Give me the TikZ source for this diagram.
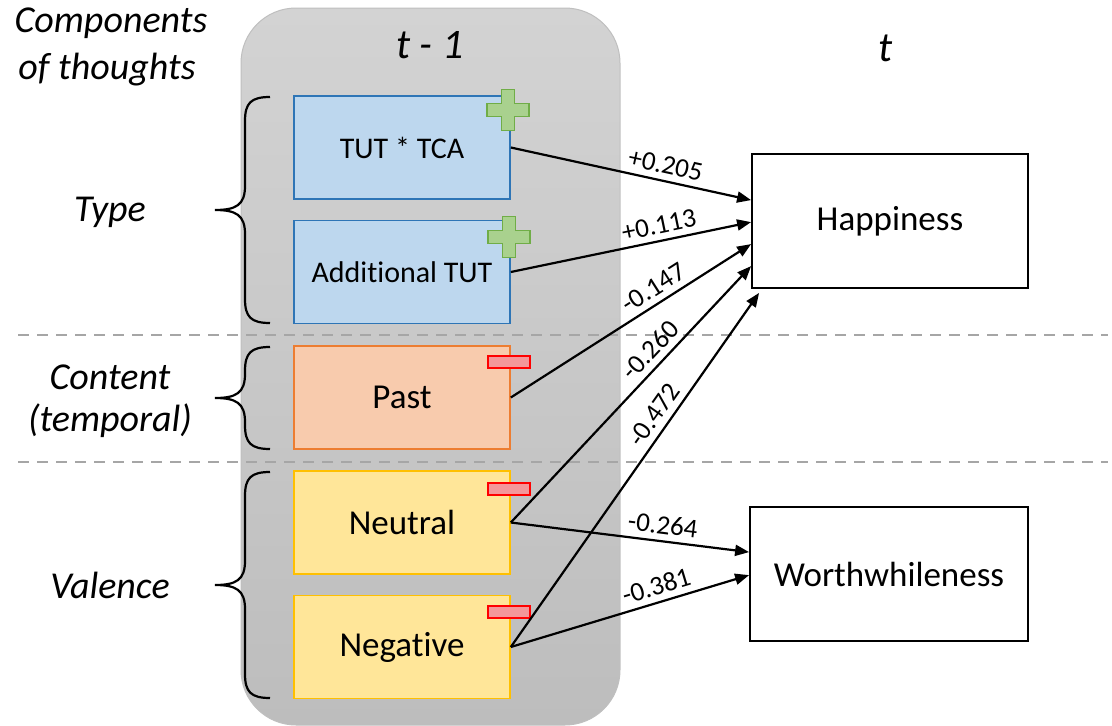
\documentclass[tikz,border=0pt]{standalone}
\usepackage{fontspec}
\setmainfont{Carlito}[Ligatures=NoCommon]
\usetikzlibrary{arrows.meta,calc}

\definecolor{panelTop}{HTML}{D3D3D3}
\definecolor{panelBot}{HTML}{BDBDBD}
\definecolor{panelEdge}{HTML}{BFBFBF}
\definecolor{blueFill}{HTML}{BDD7EE}
\definecolor{blueEdge}{HTML}{2E75B6}
\definecolor{orangeFill}{HTML}{F8CBAD}
\definecolor{orangeEdge}{HTML}{ED7D31}
\definecolor{yellowFill}{HTML}{FFE699}
\definecolor{yellowEdge}{HTML}{FFC000}
\definecolor{plusFill}{HTML}{A9D18E}
\definecolor{plusEdge}{HTML}{70AD47}
\definecolor{minusFill}{HTML}{F4979A}
\definecolor{minusEdge}{HTML}{FF0000}
\definecolor{sepGray}{HTML}{A6A6A6}

\tikzset{
  factor/.style={draw, line width=1.6pt, minimum width=216pt, minimum height=103pt,
    inner sep=0pt, font=\fontsize{35}{40}\selectfont},
  typebox/.style={factor, fill=blueFill, draw=blueEdge, font=\fontsize{30}{36}\selectfont},
  contentbox/.style={factor, fill=orangeFill, draw=orangeEdge},
  valencebox/.style={factor, fill=yellowFill, draw=yellowEdge},
  outcome/.style={draw=black, fill=white, line width=1.8pt, minimum height=134pt,
    inner sep=0pt, font=\fontsize{35}{40}\selectfont},
  sidelabel/.style={font=\fontsize{38}{44}\selectfont\itshape, inner sep=0pt},
  timelabel/.style={font=\fontsize{42}{48}\selectfont\itshape, inner sep=0pt},
  effect/.style={line width=2.2pt, -{Triangle[length=14pt,width=11pt]}},
  coef/.style={font=\fontsize{27}{30}\selectfont\upshape, sloped, above, inner sep=6pt, pos=0.63},
  bracket/.style={line width=2.2pt},
  separator/.style={draw=sepGray, line width=2.5pt, dash pattern=on 11pt off 8pt},
  plusmark/.pic={
    \draw[fill=plusFill, draw=plusEdge, line width=1.6pt]
      (-21,-6.5) -- (-6.5,-6.5) -- (-6.5,-20.5) -- (6.5,-20.5) -- (6.5,-6.5) -- (21,-6.5)
      -- (21,6.5) -- (6.5,6.5) -- (6.5,20.5) -- (-6.5,20.5) -- (-6.5,6.5) -- (-21,6.5) -- cycle;
  },
  minusmark/.pic={
    \draw[fill=minusFill, draw=minusEdge, line width=1.6pt] (-21,-6) rectangle (21,6);
  }
}

% curly bracket from y=#1 to y=#3 with its point at y=#2
\newcommand{\curlybracket}[3]{%
  \draw[bracket] (270,#1) .. controls (251,#1) and (245,#1+6) .. (245,#1+24)
    -- (245,#2-24) .. controls (245,#2-5) and (236,#2) .. (215,#2)
    .. controls (236,#2) and (245,#2+5) .. (245,#2+24)
    -- (245,#3-24) .. controls (245,#3-6) and (251,#3) .. (270,#3);}

\begin{document}
\begin{tikzpicture}[x=1pt, y=-1pt]
  \useasboundingbox (0,0) rectangle (1112,726);

  % time panel t-1
  \shade[top color=panelTop, bottom color=panelBot, draw=panelEdge, line width=1pt,
    rounded corners=55pt] (241,8) rectangle (620,725);

  % section separators
  \draw[separator] (18,335) -- (1108,335);
  \draw[separator] (18,462) -- (1108,462);

  % headings
  \node[timelabel] (tprev) at (430,45) {t - 1};
  \node[timelabel] (tnow) at (886,48) {t};
  \node[sidelabel] (comp1) at (111,23) {Components};
  \node[sidelabel] (comp2) at (107,70) {of thoughts};
  \node[sidelabel] (type) at (110,212) {Type};
  \node[sidelabel] (content1) at (110,377) {Content};
  \node[sidelabel] (content2) at (110,421) {(temporal)};
  \node[sidelabel] (valence) at (110,585) {Valence};

  % brackets grouping the factors
  \curlybracket{97}{210}{323}
  \curlybracket{347}{398}{449}
  \curlybracket{472}{585}{698}

  % predictor boxes
  \node[typebox] (tuttca) at (402,147.5) {TUT * TCA};
  \node[typebox] (addtut) at (402,272) {Additional TUT};
  \node[contentbox] (past) at (402,397.5) {Past};
  \node[valencebox] (neutral) at (402,522.5) {Neutral};
  \node[valencebox] (negative) at (402,647) {Negative};

  % sign of the effect
  \pic at (508,110) {plusmark};
  \pic at (509,237) {plusmark};
  \pic at (509,362) {minusmark};
  \pic at (509,489) {minusmark};
  \pic at (509,612) {minusmark};

  % outcomes
  \node[outcome, minimum width=276pt] (happy) at (890,221) {Happiness};
  \node[outcome, minimum width=278pt] (worth) at (889,574) {Worthwhileness};

  % effects
  \draw[effect] (tuttca.east) -- ([yshift=-47pt]happy.north west) node[coef] {+0.205};
  \draw[effect] (addtut.east) -- ([yshift=-69pt]happy.north west) node[coef] {+0.113};
  \draw[effect] (past.east) -- ([yshift=-91pt]happy.north west) node[coef] {-0.147};
  \draw[effect] (neutral.east) -- ([yshift=-113pt]happy.north west) node[coef] {-0.260};
  \draw[effect] (negative.east) -- ([xshift=8pt,yshift=-4pt]happy.south west) node[coef] {-0.472};
  \draw[effect] (neutral.east) -- ([yshift=-46pt]worth.north west) node[coef] {-0.264};
  \draw[effect] (negative.east) -- ([yshift=-69pt]worth.north west) node[coef] {-0.381};
\end{tikzpicture}
\end{document}
